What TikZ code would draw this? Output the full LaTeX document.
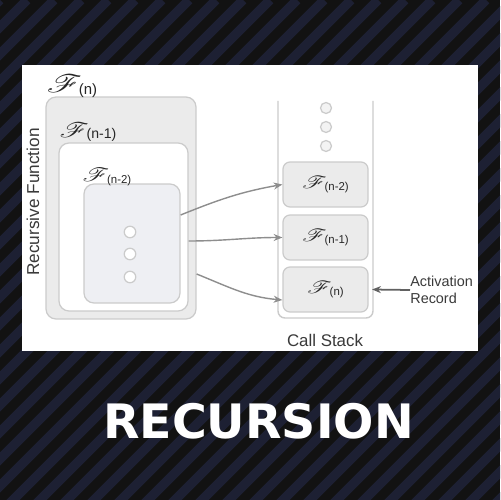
\documentclass[tikz,border=0pt]{standalone}
\usepackage{graphicx}
\usepackage{mathrsfs}
\usepackage{fontspec}
\setmainfont{Liberation Sans}
\setsansfont{Liberation Sans}
\newfontfamily\titlefont{DejaVu Sans}
\usetikzlibrary{arrows.meta}

\definecolor{bgdark}{HTML}{121212}
\definecolor{bgstripe}{HTML}{1D2033}
\definecolor{boxline}{HTML}{CBCBCB}
\definecolor{greyfill}{HTML}{EBEBEB}
\definecolor{bluefill}{HTML}{EEEFF3}
\definecolor{textgray}{HTML}{3A3A3A}
\definecolor{linkgray}{HTML}{8E8E8E}

% wide script F with a small sans argument
\newcommand{\fcall}[3]{\scalebox{1.35}[1]{\fontsize{#1}{#1}\selectfont$\mathscr{F}$}\kern-0.12\dimexpr #1pt\relax\raisebox{-1pt}{\sffamily\fontsize{#2}{#2}\selectfont(#3)}}

\begin{document}
\begin{tikzpicture}[x=0.02cm,y=-0.02cm,
  funcbox/.style={draw=boxline, line width=0.7pt, rounded corners=0.2cm},
  stackframe/.style={draw=boxline, line width=0.7pt, fill=greyfill, rounded corners=0.14cm,
    minimum width=1.7cm, minimum height=0.9cm},
  dot/.style={circle, draw=boxline, line width=0.7pt, fill=white, minimum size=0.23cm, inner sep=0pt},
  link/.style={draw=linkgray, line width=0.8pt, -{Stealth[length=5pt,width=4pt]}},
  lbl/.style={text=black!85, inner sep=0pt}]
\useasboundingbox (0,0) rectangle (500,500);

% Draw striped background
\fill[bgdark] (0,0) rectangle (500,500);
\begin{scope}
\clip (0,0) rectangle (500,500);
\foreach \k in {0,...,38}
  \draw[bgstripe, line width=5.4pt] (\k*27,0) -- ++(-520,520);
\end{scope}

% Draw white panel
\fill[white] (22,65) rectangle (478,351);

% Draw nested function boxes
\node[funcbox, fill=greyfill, minimum width=3cm, minimum height=4.44cm] (outer) at (121,208) {};
\node[funcbox, fill=white, minimum width=2.58cm, minimum height=3.36cm] (middle) at (123.5,227) {};
\node[funcbox, fill=bluefill, minimum width=1.92cm, minimum height=2.38cm] (inner) at (132,243.5) {};

\node[lbl] (fn) at (72,86) {\fcall{15}{8.5}{n}};
\node[lbl] (fn1) at (88,132) {\fcall{12}{8}{n-1}};
\node[lbl] (fn2) at (107,177) {\fcall{11}{6.5}{n-2}};

\node[dot] (d1) at (130,232) {};
\node[dot] (d2) at (130,254) {};
\node[dot] (d3) at (130,277) {};

\node[lbl, text=textgray, rotate=90, font=\fontsize{9.8}{12}\selectfont] (recfun) at (33,202) {Recursive Function};

% Draw call stack
\draw[boxline, line width=0.8pt, rounded corners=0.14cm] (278,101) -- (278,318) -- (373,318) -- (373,101);

\node[dot, minimum size=0.22cm, fill=greyfill!60] (s1) at (326,108) {};
\node[dot, minimum size=0.22cm, fill=greyfill!60] (s2) at (326,127) {};
\node[dot, minimum size=0.22cm, fill=greyfill!60] (s3) at (326,146) {};

\node[stackframe] (f2) at (325.5,184.5) {};
\node[stackframe] (f1) at (325.5,237.5) {};
\node[stackframe] (f0) at (325.5,289.5) {};
\node[lbl] at (f2) {\fcall{10}{6.5}{n-2}};
\node[lbl] at (f1) {\fcall{10}{6.5}{n-1}};
\node[lbl] at (f0) {\fcall{10}{6.5}{n}};

\node[lbl, text=textgray, font=\fontsize{9.6}{12}\selectfont] (callstack) at (325,340) {Call Stack};
\node[lbl, text=textgray, align=left, anchor=west, font=\fontsize{8.2}{9.6}\selectfont] (act) at (410,290) {Activation\\Record};

% Draw calls into the stack
\draw[link] ([yshift=0.57cm]inner.east) to[out=22,in=190] (f2.west);
\draw[link] ([yshift=-0.28cm]middle.east) to[out=0,in=180] (f1.west);
\draw[link] ([yshift=-1.32cm]outer.east) to[out=-22,in=175] ([yshift=-0.21cm]f0.west);
\draw[draw=textgray!80, line width=1pt, -{Stealth[length=5pt,width=4pt]}] (act.west) -- ([xshift=2pt]f0.east);

% Draw title
\node[text=white, font=\titlefont\bfseries\fontsize{27}{30}\selectfont] (title) at (258.5,421) {RECURSION};
\end{tikzpicture}
\end{document}
